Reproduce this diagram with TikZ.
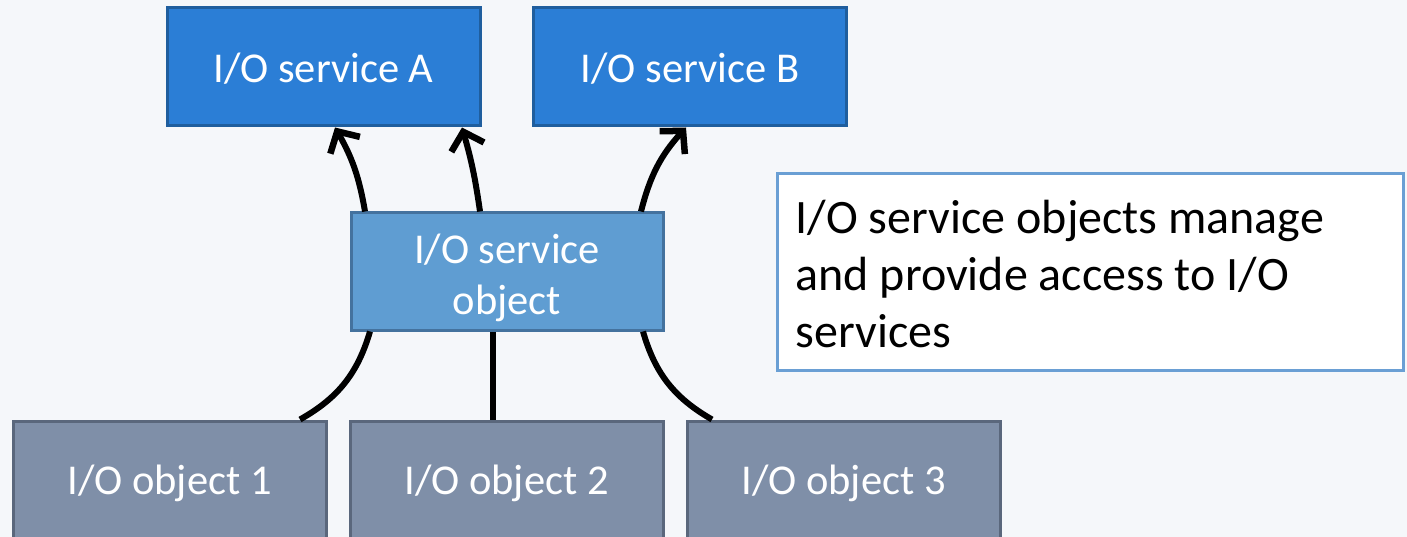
\documentclass[tikz,border=0pt]{standalone}
\usepackage{fontspec}
\setmainfont{Carlito}
\usetikzlibrary{arrows.meta,calc}
\definecolor{svcfill}{HTML}{2B7ED6}
\definecolor{svcdraw}{HTML}{1F5E9E}
\definecolor{sobjfill}{HTML}{5F9DD2}
\definecolor{sobjdraw}{HTML}{44729E}
\definecolor{objfill}{HTML}{7F8FA8}
\definecolor{objdraw}{HTML}{5A677C}
\definecolor{notedraw}{HTML}{6A9FD4}
\definecolor{bgcol}{HTML}{F5F7FA}
\tikzset{
  box/.style={rectangle, line width=3pt, inner sep=0pt, text=white,
    font=\fontsize{42.5}{51}\selectfont, align=center},
  svcbox/.style={box, fill=svcfill, draw=svcdraw, minimum width=313pt, minimum height=118pt},
  sobjbox/.style={box, fill=sobjfill, draw=sobjdraw, minimum width=312pt, minimum height=117pt},
  objbox/.style={box, fill=objfill, draw=objdraw, minimum width=313pt, minimum height=124pt},
  notebox/.style={rectangle, line width=3pt, draw=notedraw, fill=white, minimum width=626pt,
    minimum height=196pt, inner sep=0pt},
  conn/.style={line width=6pt, black},
  arr/.style={conn, -{Straight Barb[length=16pt,width=34pt,line width=6.5pt]}},
}
\begin{document}
\begin{tikzpicture}[x=1pt,y=-1pt]
\fill[bgcol] (0,0) rectangle (1407,537);
\useasboundingbox (0,0) rectangle (1407,537);
\node[svcbox] (A) at (323.5,67) {\rule{0pt}{33pt}I/O service A};
\node[svcbox] (B) at (690,67) {\rule{0pt}{33pt}I/O service B};
\node[sobjbox] (S) at (507,271.5) {\rule{0pt}{42pt}I/O service\\object};
\node[objbox] (O1) at (169.5,483) {I/O object 1};
\node[objbox] (O2) at (506.5,483) {I/O object 2};
\node[objbox] (O3) at (843.5,483) {I/O object 3};
\node[notebox] (N) at (1090,272) {};
\node[anchor=north west, inner sep=0pt, align=left,
  font=\fontsize{48}{57}\selectfont] (NT) at ($(N.north west)+(20,27)$)
  {I/O service objects manage\\and provide access to I/O\\services};
\draw[arr] ([xshift=-142pt]S.north) to[bend right=10] ([xshift=11.5pt]A.south);
\draw[arr] ([xshift=-27pt]S.north) to[bend right=4] ([xshift=138.5pt]A.south);
\draw[arr] ([xshift=134pt]S.north) to[bend left=14] ([xshift=-4pt]B.south);
\draw[conn] ([xshift=130.5pt]O1.north) to[bend right=22] ([xshift=-137pt]S.south);
\draw[conn] ([xshift=-13.5pt]O2.north) -- ([xshift=-14pt]S.south);
\draw[conn] ([xshift=-131.5pt]O3.north) to[bend left=22] ([xshift=136pt]S.south);
\end{tikzpicture}
\end{document}
